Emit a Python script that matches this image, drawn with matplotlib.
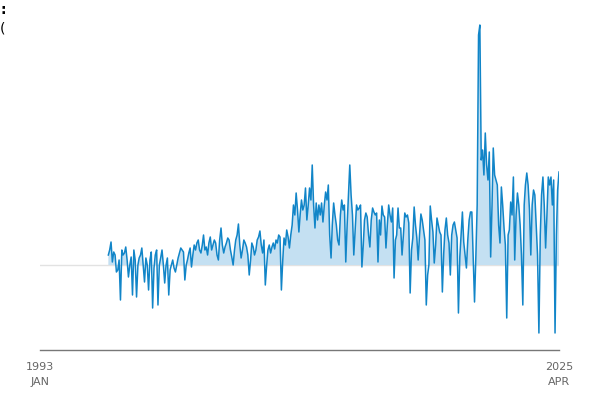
import matplotlib.pyplot as plt
import numpy as np
import pandas as pd

# monthly values, Apr 1997 .. Apr 2025
y1997 = [10, 15, 23, 3, 13, 10, -7, -5, 5]
y1998 = [-35, 15, 10, 12, 18, 5, -12, 0, 8, -30, 15, 5]
y1999 = [-32, 0, 7, 10, 17, 0, -17, 7, 0, -25, 5, 13]
y2000 = [-43, -3, 10, 15, -40, 0, 7, 15, 0, -18, 0, 7]
y2001 = [-30, -5, 0, 5, -3, -7, 0, 7, 12, 17, 15, 13]
y2002 = [-15, 0, 5, 12, 17, -2, 10, 20, 15, 22, 25, 15]
y2003 = [12, 20, 30, 15, 18, 10, 22, 28, 15, 20, 25, 22]
y2004 = [10, 5, 25, 37, 20, 12, 18, 22, 27, 25, 15, 8]
y2005 = [0, 15, 25, 30, 41, 20, 7, 15, 25, 22, 18, 10]
y2006 = [-10, 5, 22, 18, 10, 15, 25, 28, 34, 20, 12, 25]
y2007 = [-20, 0, 15, 20, 12, 18, 22, 16, 25, 22, 30, 28]
y2008 = [-25, 5, 27, 20, 35, 28, 17, 30, 40, 60, 50, 72]
y2009 = [55, 33, 50, 65, 55, 60, 77, 45, 60, 77, 65, 100]
y2010 = [60, 37, 62, 45, 60, 50, 62, 43, 60, 73, 65, 80]
y2011 = [30, 7, 40, 62, 50, 40, 25, 20, 50, 65, 55, 60]
y2012 = [3, 40, 70, 100, 70, 50, 10, 35, 60, 55, 57, 60]
y2013 = [-2, 20, 45, 52, 48, 30, 18, 45, 57, 53, 50, 52]
y2014 = [3, 45, 30, 59, 50, 48, 17, 40, 60, 50, 43, 57]
y2015 = [-13, 25, 30, 57, 37, 37, 10, 30, 52, 48, 50, 42]
y2016 = [-28, 15, 27, 58, 40, 27, 5, 30, 51, 45, 35, 25]
y2017 = [-40, -10, 0, 59, 45, 33, 2, 20, 47, 40, 33, 30]
y2018 = [-27, 12, 35, 47, 30, 22, -10, 30, 40, 43, 35, 27]
y2019 = [-48, 8, 30, 53, 23, 10, -3, 25, 45, 53, 53, 10]
y2020 = [-37, 10, 60, 230, 240, 105, 115, 90, 132, 100, 85, 113]
y2021 = [8, 60, 117, 90, 85, 80, 40, 22, 78, 60, 37, 20]
y2022 = [-53, 30, 35, 63, 50, 88, 5, 50, 72, 60, 40, 10]
y2023 = [-40, 60, 80, 92, 80, 55, 10, 60, 75, 70, 40, 10]
y2024 = [-68, 30, 70, 88, 60, 17, 50, 88, 80, 88, 60, 85]
y2025 = [-68, 30, 75, 93]

values = np.array(y1997 + y1998 + y1999 + y2000 + y2001 + y2002 + y2003 + y2004
                  + y2005 + y2006 + y2007 + y2008 + y2009 + y2010 + y2011 + y2012
                  + y2013 + y2014 + y2015 + y2016 + y2017 + y2018 + y2019 + y2020
                  + y2021 + y2022 + y2023 + y2024 + y2025, dtype=float)
dates = pd.date_range('1997-04-01', periods=len(values), freq='MS')

start = pd.Timestamp('1993-01-01')
end = pd.Timestamp('2025-04-01')

fig = plt.figure(figsize=(6, 4), dpi=100)
ax = fig.add_axes([40 / 600, 50 / 400, 519 / 600, 330 / 400])

ax.plot([start, end], [0, 0], color='#e2e2e2', linewidth=1, zorder=1)
ax.fill_between(dates, 0, values, where=values > 0, interpolate=True,
                color='#c4e0f2', linewidth=0, zorder=2)
ax.plot(dates, values, color='#1185c8', linewidth=1.1, zorder=3)

ax.set_xlim(start, end)
ax.set_ylim(-85, 245)
ax.set_xticks([start, end])
ax.set_xticklabels(['1993\nJAN', '2025\nAPR'], color='#666666', fontsize=8,
                   linespacing=1.6)
ax.tick_params(axis='x', length=0, pad=9)
ax.set_yticks([])
for side in ['top', 'right', 'left']:
    ax.spines[side].set_visible(False)
ax.spines['bottom'].set_color('#777777')
ax.spines['bottom'].set_linewidth(1)

fig.text(0.0, 1 - 10 / 400, ':', fontsize=10, fontweight='bold', va='center', ha='left')
fig.text(0.0, 1 - 29 / 400, '(', fontsize=10, va='center', ha='left')

fig.savefig('out.png', dpi=100)
plt.close()
